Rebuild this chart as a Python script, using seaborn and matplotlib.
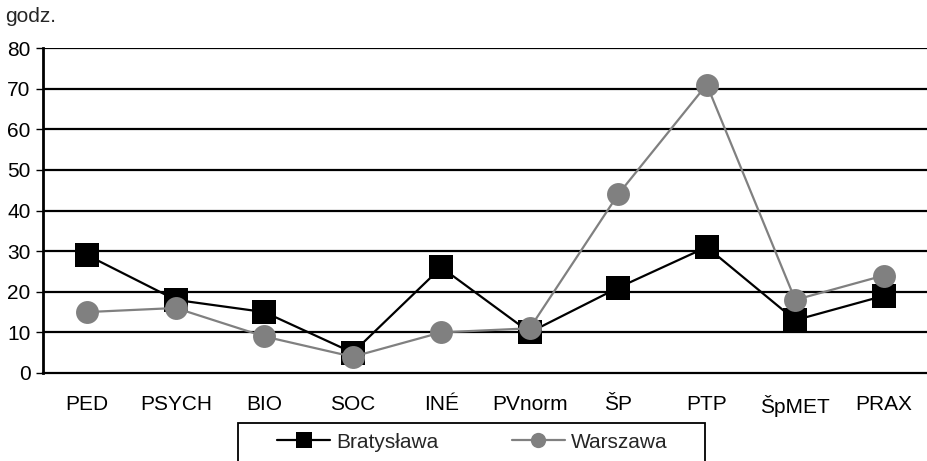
import numpy as np
import pandas as pd
import matplotlib
matplotlib.use("Agg")
import matplotlib.pyplot as plt
from matplotlib.ticker import FixedLocator
from matplotlib.lines import Line2D
from matplotlib.patches import Rectangle
import seaborn as sns

categories = ["PED", "PSYCH", "BIO", "SOC", "INÉ", "PVnorm", "ŠP", "PTP", "ŠpMET", "PRAX"]
bratyslawa = [29, 18, 15, 5, 26, 10, 21, 31, 13, 19]
warszawa = [15, 16, 9, 4, 10, 11, 44, 71, 18, 24]
y_ticks = [0, 10, 20, 30, 40, 50, 60, 70, 80]

sns.set_theme(style="white")
plt.rcParams["font.family"] = ["Liberation Sans", "DejaVu Sans"]

df = pd.DataFrame({"pos": np.arange(len(categories)),
                   "Bratysława": bratyslawa,
                   "Warszawa": warszawa})

W, H = 927, 461
fig = plt.figure(figsize=(W / 100, H / 100), dpi=100)
ax = fig.add_axes([43 / W, 1 - 373 / H, 885 / W, 325 / H])

for yv in y_ticks[1:]:
    ax.axhline(yv, color="black", lw=1.6, zorder=1)

sns.lineplot(data=df, x="pos", y="Warszawa", ax=ax, color="#808080", lw=1.6,
             marker="o", markersize=16.5, markeredgewidth=0, zorder=3)
sns.lineplot(data=df, x="pos", y="Bratysława", ax=ax, color="black", lw=1.6,
             marker="s", markersize=17.5, markeredgewidth=0, zorder=2)

ax.set_xlim(-0.5, len(categories) - 0.5)
ax.set_ylim(0, 80)
ax.set_yticks(y_ticks)
ax.set_xticks(np.arange(len(categories)))
ax.set_xticklabels(categories)
ax.xaxis.set_minor_locator(FixedLocator(np.arange(-0.5, len(categories), 1.0)))
ax.tick_params(axis="x", which="major", length=0, pad=16, labelsize=15, colors="black")
ax.tick_params(axis="x", which="minor", length=5, width=1, color="black", direction="out")
ax.tick_params(axis="y", length=5, width=1, color="black", direction="out",
               labelsize=15, pad=4, left=True, colors="black")
ax.set_xlabel("")
ax.set_ylabel("")

for s in ["top", "right"]:
    ax.spines[s].set_visible(False)
ax.spines["left"].set_linewidth(2)
ax.spines["left"].set_color("black")
ax.spines["bottom"].set_linewidth(1.6)
ax.spines["bottom"].set_color("black")

fig.text(5 / W, 1 - 17 / H, "godz.", fontsize=15, va="center", ha="left")

# legend frame: a box running off the bottom edge of the figure
fig.patches.append(Rectangle((238 / W, -10 / H), (705 - 238) / W, (461 - 423 + 10) / H,
                             transform=fig.transFigure, fill=False,
                             edgecolor="black", linewidth=1.3))

handles = [Line2D([], [], color="black", lw=1.6, marker="s", markersize=11, markeredgewidth=0),
           Line2D([], [], color="#808080", lw=1.6, marker="o", markersize=11, markeredgewidth=0)]
leg = fig.legend(handles, ["Bratysława", "Warszawa"], loc="center left",
                 bbox_to_anchor=(277 / W, 1 - 442 / H), ncol=2, frameon=False,
                 fontsize=15, handlelength=2.55, handletextpad=0.3, columnspacing=3.5,
                 borderpad=0, borderaxespad=0)

fig.savefig("out.png", dpi=100)
